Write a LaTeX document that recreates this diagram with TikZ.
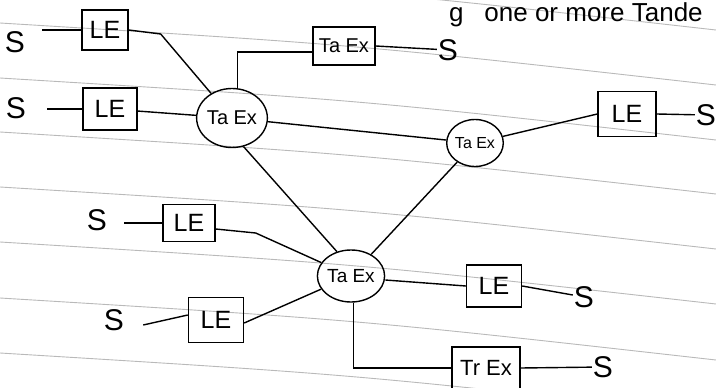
\documentclass[tikz,border=0pt]{standalone}
\usepackage{fontspec}
\setmainfont{Liberation Sans}
\usetikzlibrary{shapes.geometric}
\begin{document}
\begin{tikzpicture}[x=1pt,y=-1pt,
  wire/.style={line width=1.4pt, black},
  ruled/.style={line width=0.9pt, gray!55},
  exbox/.style={draw, line width=1.4pt, rectangle, inner sep=1pt, font=\fontsize{25}{25}\selectfont},
  tandem/.style={draw, line width=1.4pt, ellipse, inner sep=0pt},
  sub/.style={font=\fontsize{30}{30}\selectfont, inner sep=1pt}]
\useasboundingbox (0,0) rectangle (716,388);
% ruled paper lines
\foreach \y in {-32,23,78,132,187,242,298,353}
  \draw[ruled] (0,\y) .. controls (360,\y+22) .. (716,\y+62);
% note at the top
\node[anchor=base west, font=\fontsize{26}{26}\selectfont, inner sep=0pt] (note) at (449,21) {g\hspace{0.8em}one or more Tande};
% nodes
\node[sub] (s1) at (15,42) {S};
\node[exbox, minimum width=46, minimum height=40] (le1) at (105,30) {LE};
\node[sub] (s2) at (16,108) {S};
\node[exbox, minimum width=54, minimum height=42] (le2) at (110,109) {LE};
\node[tandem, minimum width=67, minimum height=59, font=\fontsize{20}{20}\selectfont] (t1) at (232,118) {Ta Ex};
\node[exbox, minimum width=62, minimum height=38, font=\fontsize{20}{20}\selectfont] (tb1) at (344,46) {Ta Ex};
\node[sub] (s3) at (448,50) {S};
\node[tandem, minimum width=55, minimum height=47, font=\fontsize{16}{16}\selectfont] (t2) at (475,143) {Ta Ex};
\node[exbox, minimum width=58, minimum height=45] (le3) at (627,114) {LE};
\node[sub] (s4) at (706,115) {S};
\node[tandem, minimum width=67, minimum height=52, font=\fontsize{19}{19}\selectfont] (t3) at (351,276) {Ta Ex};
\node[sub] (s5) at (97,220) {S};
\node[exbox, minimum width=52, minimum height=37] (le4) at (189,223) {LE};
\node[sub] (s6) at (114,320) {S};
\node[exbox, minimum width=55, minimum height=45] (le5) at (216,320) {LE};
\node[exbox, minimum width=55, minimum height=42] (le6) at (494,286) {LE};
\node[sub] (s7) at (584,297) {S};
\node[exbox, minimum width=68, minimum height=42, font=\fontsize{22}{22}\selectfont] (tr) at (486,368) {Tr Ex};
\node[sub] (s8) at (603,367) {S};
% connectors
\draw[wire] (le1.west) -- ([xshift=16pt]s1.east |- le1.west);
\draw[wire] (le1.east) -- ++(32,4) -- (t1);
\draw[wire] (le2.west) -- ([xshift=20pt]s2.east |- le2.west);
\draw[wire] (le2) -- (t1);
\draw[wire] (t1.80) |- ([yshift=-6pt]tb1.west);
\draw[wire] (tb1.east) -- (s3);
\draw[wire] (t1) -- (t2);
\draw[wire] (t2) -- (le3.west);
\draw[wire] (le3.east) -- (s4);
\draw[wire] (t2) -- (t3);
\draw[wire] (t1.292) -- (t3.120);
\draw[wire] (le4.west) -- ([xshift=16pt]s5.east |- le4.west);
\draw[wire] ([yshift=-6pt]le4.east) -- ++(40,4) -- (t3);
\draw[wire] ([xshift=18pt,yshift=-5pt]s6.east) -- ([yshift=5pt]le5.west);
\draw[wire] ([yshift=-3pt]le5.east) -- (t3);
\draw[wire] ([yshift=-4pt]t3.east) -- (le6.west);
\draw[wire] (le6.east) -- (s7);
\draw[wire] (t3.275) |- (tr.west);
\draw[wire] (tr.east) -- (s8);
\end{tikzpicture}
\end{document}
